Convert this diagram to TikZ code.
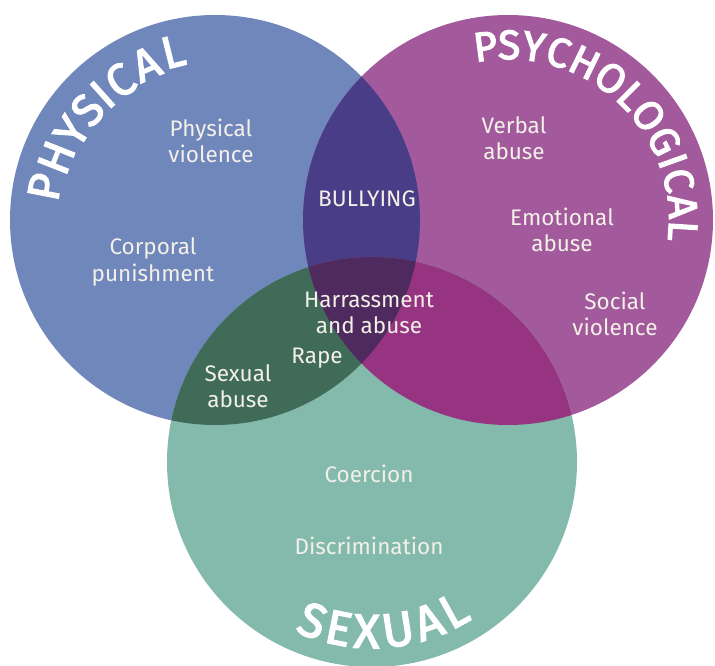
\documentclass[tikz,border=0pt]{standalone}
\usepackage{fontspec}
\setmainfont{Fira Sans}
\newfontfamily\titlef{Fira Sans}[FakeBold=3]
\definecolor{cphys}{HTML}{7087BC}
\definecolor{cpsy}{HTML}{A25A9C}
\definecolor{csex}{HTML}{83BAAC}
\definecolor{cps}{HTML}{4A3D88}
\definecolor{cpx}{HTML}{3F6B58}
\definecolor{csx}{HTML}{973482}
\definecolor{cpsx}{HTML}{4E2A5E}
\definecolor{ctxt}{HTML}{F3F0E8}
\tikzset{
  lbl/.style={text=ctxt, align=center, inner sep=0pt, font=\fontsize{22.5}{26.5}\selectfont},
  tletter/.style={text=white, inner sep=0pt, anchor=base, font=\titlef\fontsize{#1}{#1}\selectfont}
}
\begin{document}
\begin{tikzpicture}[x=1pt,y=1pt]
\useasboundingbox (0,0) rectangle (715,-666);
\fill[white] (0,0) rectangle (715,-666);
\coordinate (P) at (215,-220);
\coordinate (S) at (508,-220);
\coordinate (X) at (372,-462);
\fill[cphys] (P) circle[radius=205pt];
\fill[cpsy] (S) circle[radius=205pt];
\fill[csex] (X) circle[radius=205pt];
\begin{scope}\clip (P) circle[radius=205pt]; \fill[cps] (S) circle[radius=205pt];\end{scope}
\begin{scope}\clip (P) circle[radius=205pt]; \fill[cpx] (X) circle[radius=205pt];\end{scope}
\begin{scope}\clip (S) circle[radius=205pt]; \fill[csx] (X) circle[radius=205pt];\end{scope}
\begin{scope}\clip (P) circle[radius=205pt]; \clip (S) circle[radius=205pt]; \fill[cpsx] (X) circle[radius=205pt];\end{scope}
% curved titles, letter by letter
\foreach \l/\a/\r [count=\i] in {P/169/158,H/158.5/155,Y/148.3/153,S/139.2/153,I/131.9/153,C/124.2/153,A/113.8/155,L/104/158}
  \node[tletter=45, rotate=\a-90] (ph\i) at ([shift={(\a:\r pt)}]P) {\l};
\foreach \l/\a [count=\i] in {P/97.4,S/89.6,Y/81.5,C/73.2,H/64,O/54,L/45.2,O/36.6,G/26.8,I/19.7,C/13.1,A/4.4,L/-3.6}
  \node[tletter=41, rotate=\a-90] (ps\i) at ([shift={(\a:161pt)}]S) {\l};
\foreach \l/\a [count=\i] in {S/249.5,E/258.7,X/268.2,U/278.8,A/289.5,L/298.9}
  \node[tletter=48, rotate=\a+90] (sx\i) at ([shift={(\a:186pt)}]X) {\l};
% labels
\node[lbl] (pv) at (211,-141) {Physical\\violence};
\node[lbl] (cp) at (153,-262) {Corporal\\punishment};
\node[lbl] (bu) at (367,-199) {BULLYING};
\node[lbl] (va) at (514,-138) {Verbal\\abuse};
\node[lbl] (ea) at (562,-230) {Emotional\\abuse};
\node[lbl] (sv) at (615,-314) {Social\\violence};
\node[lbl] (ha) at (369,-313) {Harrassment\\and abuse};
\node[lbl] (ra) at (317,-358) {Rape};
\node[lbl] (sa) at (238,-386) {Sexual\\abuse};
\node[lbl] (co) at (369,-474) {Coercion};
\node[lbl] (di) at (369,-546) {Discrimination};
\end{tikzpicture}
\end{document}
